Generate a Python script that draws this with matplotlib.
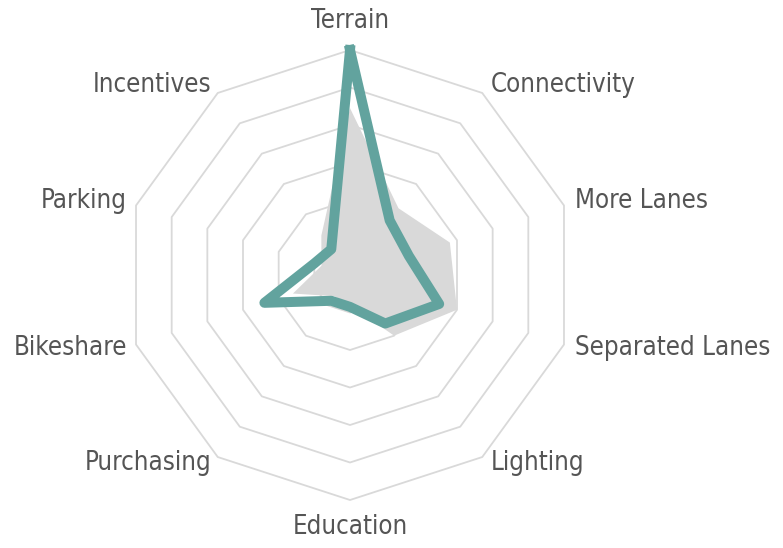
import numpy as np
import matplotlib
matplotlib.use("Agg")
import matplotlib.pyplot as plt

# categories clockwise from the top
categories = ["Terrain", "Connectivity", "More Lanes", "Separated Lanes", "Lighting",
              "Education", "Purchasing", "Bikeshare", "Parking", "Incentives"]
# grey filled series and teal line series (ring units, 0-6)
area_values = [4.45, 2.2, 2.8, 3.0, 2.0, 0.8, 0.7, 1.6, 0.8, 1.3]
line_values = [6.0, 1.8, 1.65, 2.5, 1.6, 0.85, 0.85, 2.4, 1.0, 0.85]
rings = [1, 2, 3, 4, 5, 6]

# label offsets in pixels from the outer vertex, and alignment
label_offsets = [(0, 29), (8, 8), (11, 4), (11, -3), (8, -6),
                 (0, -27), (-6, -6), (-9, -3), (-9, 4), (-6, 8)]
label_ha = ["center", "left", "left", "left", "left",
            "center", "right", "right", "right", "right"]

W, H = 783, 548
cx, cy, R = 350, 275, 225

fig = plt.figure(figsize=(W / 100, H / 100), dpi=100)
ax = fig.add_axes([(cx - R) / W, (H - cy - R) / H, 2 * R / W, 2 * R / H], projection="polar")
ax.set_theta_zero_location("N")
ax.set_theta_direction(-1)
ax.set_ylim(0, 6)
ax.axis("off")

n = len(categories)
angles = np.linspace(0, 2 * np.pi, n, endpoint=False)
closed = np.append(angles, angles[0])

grid_color = "#d9d9d9"
for r in rings:
    ax.plot(closed, [r] * (n + 1), color=grid_color, lw=1.3, zorder=1, clip_on=False)

ax.fill(closed, area_values + area_values[:1], color="#d9d9d9", lw=0, zorder=2)
ax.plot(closed, line_values + line_values[:1], color="#62a39e", lw=7.2,
        solid_joinstyle="round", zorder=3, clip_on=False)

for ang, lab, off, ha in zip(angles, categories, label_offsets, label_ha):
    ax.annotate(lab, xy=(ang, 6), xytext=off, textcoords="offset pixels",
                ha=ha, va="center", fontsize=18.5, color="#555555",
                family="DejaVu Sans", fontstretch="condensed", annotation_clip=False)

fig.savefig("out.png", dpi=100)
